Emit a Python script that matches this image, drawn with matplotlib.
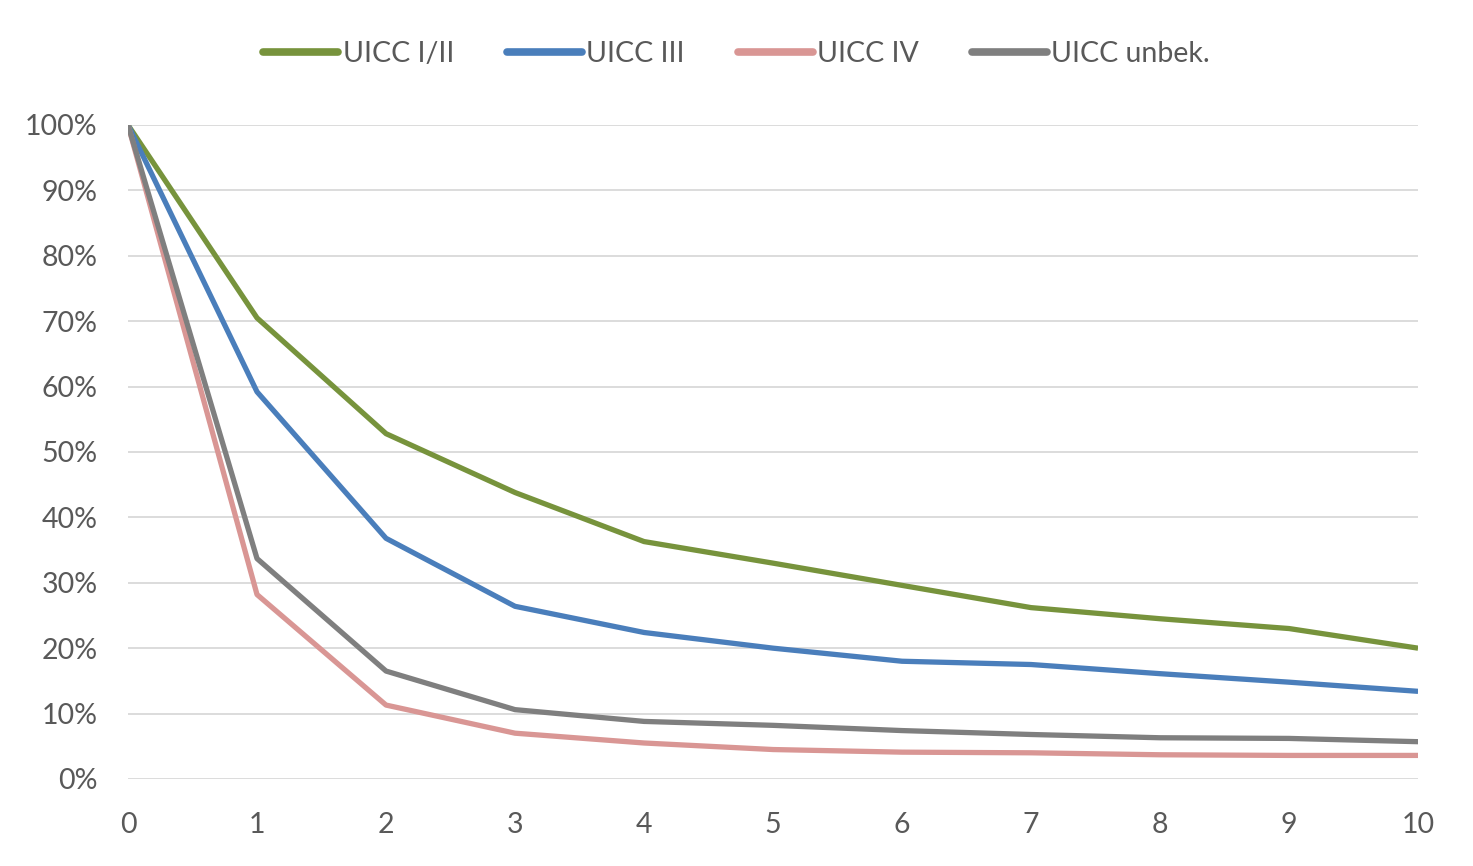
import numpy as np
import matplotlib
matplotlib.use('Agg')
import matplotlib.pyplot as plt
from matplotlib.ticker import PercentFormatter

years = [0, 1, 2, 3, 4, 5, 6, 7, 8, 9, 10]
uicc_1_2 = [100, 70.5, 52.8, 43.8, 36.3, 33.0, 29.6, 26.2, 24.5, 23.0, 20.0]
uicc_3 = [100, 59.2, 36.8, 26.4, 22.4, 20.0, 18.0, 17.5, 16.1, 14.8, 13.4]
uicc_4 = [100, 28.2, 11.3, 7.0, 5.5, 4.5, 4.1, 4.0, 3.7, 3.6, 3.6]
uicc_unbek = [100, 33.7, 16.5, 10.6, 8.8, 8.2, 7.4, 6.8, 6.3, 6.2, 5.7]

series = [
    ('UICC I/II', uicc_1_2, '#77933C'),
    ('UICC III', uicc_3, '#4A7EBB'),
    ('UICC IV', uicc_4, '#D99694'),
    ('UICC unbek.', uicc_unbek, '#7F7F7F'),
]

plt.rcParams['font.family'] = ['Lato', 'DejaVu Sans']

fig = plt.figure(figsize=(14.73, 8.66), dpi=100)
ax = fig.add_axes([0.0869, 0.1005, 0.8758, 0.7552])

for name, vals, col in series:
    ax.plot(years, np.array(vals) / 100, color=col, lw=3.8, label=name,
            solid_capstyle='butt', solid_joinstyle='round')

ax.set_xlim(0, 10)
ax.set_ylim(0, 1)
ax.set_xticks(years)
ax.set_yticks(np.arange(0, 1.01, 0.1))
ax.yaxis.set_major_formatter(PercentFormatter(1.0, decimals=0))
ax.grid(axis='y', color='#D9D9D9', lw=1.3)
ax.set_axisbelow(True)
for s in ['top', 'right', 'left', 'bottom']:
    ax.spines[s].set_visible(False)
ax.tick_params(length=0, labelsize=20.5, colors='#595959')
ax.tick_params(axis='x', pad=24)
ax.tick_params(axis='y', pad=22)

leg = fig.legend(loc='upper center', bbox_to_anchor=(0.5, 0.982), ncol=4,
                 frameon=False, fontsize=20.5, handlelength=2.65, handletextpad=0.15,
                 columnspacing=1.85, labelcolor='#595959')
for line in leg.get_lines():
    line.set_linewidth(5.5)
    line.set_solid_capstyle('round')

fig.savefig('out.png', dpi=100)
